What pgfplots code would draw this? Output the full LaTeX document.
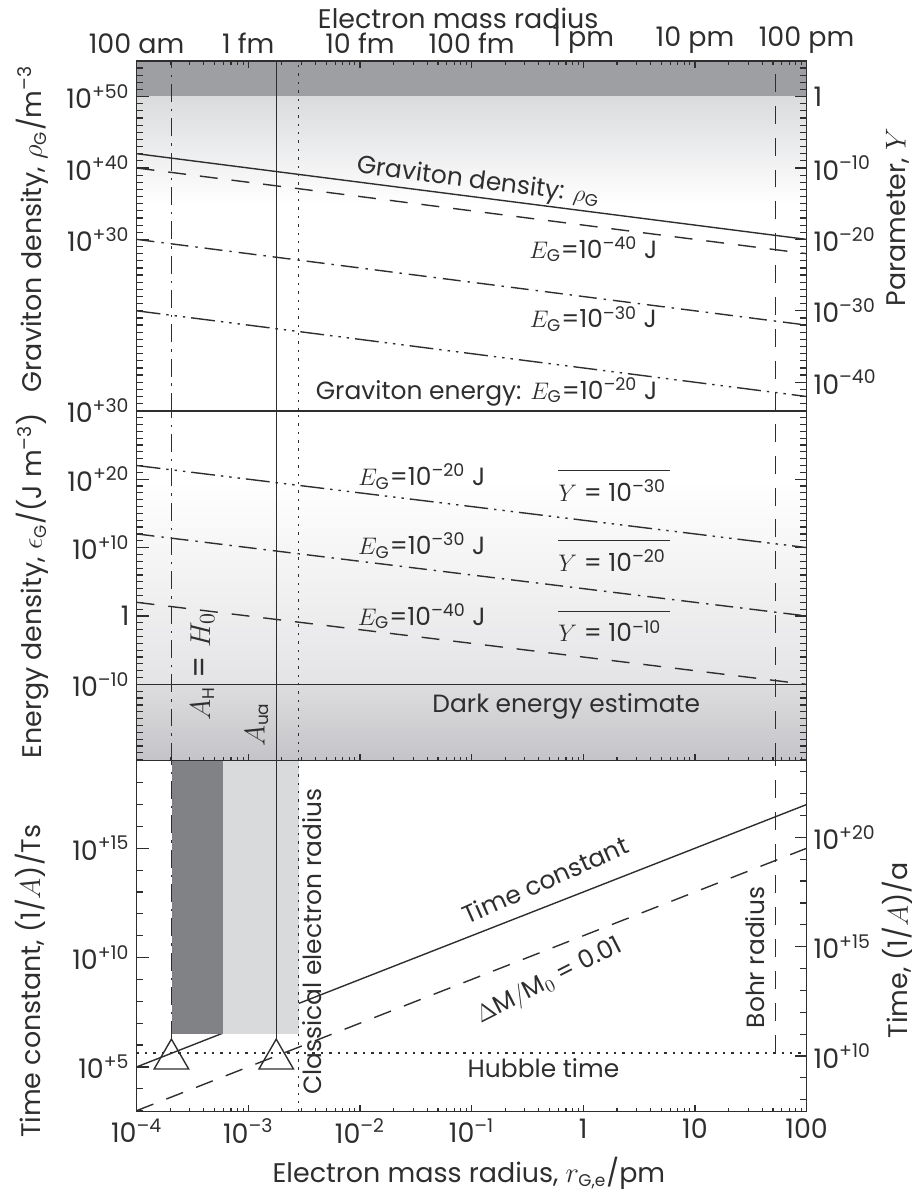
\documentclass[border=0pt]{standalone}
\usepackage{fontspec}
\setmainfont{Poppins}
\usepackage{pgfplots}
\pgfplotsset{compat=1.18}

\definecolor{bandgray}{HTML}{9E9FA3}
\definecolor{fadegray}{HTML}{DADBDD}
\definecolor{midgray}{HTML}{E4E4E6}
\definecolor{detop}{HTML}{DDDDDF}
\definecolor{debot}{HTML}{C4C4C8}
\definecolor{rectdark}{HTML}{818285}
\definecolor{rectlight}{HTML}{D9DADC}
\definecolor{ink}{HTML}{2E2E2E}

\newcommand\fs{\fontsize{12.5}{14}\selectfont}
\newcommand\fl{\fontsize{13.5}{15}\selectfont}
\newcommand\fb{\fontsize{15.5}{17}\selectfont}
\newcommand\sbs[1]{\mbox{\fontsize{8.5}{9}\selectfont #1}}
\newcommand\tp[1]{10\textsuperscript{#1}}

\tikzset{
  ln/.style={ink, line width=0.7pt, solid},
  dsh/.style={ln, dash pattern=on 9pt off 7pt},
  dshdot/.style={ln, dash pattern=on 9pt off 3.5pt on 1.2pt off 3.5pt},
  dshdots/.style={ln, dash pattern=on 12pt off 3pt on 1.2pt off 3pt on 1.2pt off 3pt on 1.2pt off 3pt},
  dts/.style={ln, dash pattern=on 1.2pt off 3pt},
  lbl/.style={font=\fs, text=ink},
  tk/.style={ink, line width=0.6pt, solid},
}
\pgfplotsset{major tick length=0pt, minor tick length=0pt}

% tick marks along an axis edge: position, list, length
\newcommand\yticks[3]{\pgfplotsinvokeforeach{#2}{\draw[tk] (axis cs:#1,##1) -- ++(#3,0pt);}}
\newcommand\xticks[3]{\pgfplotsinvokeforeach{#2}{\draw[tk] (axis cs:##1,#1) -- ++(0pt,#3);}}
\newcommand\xdecades[2]{%
  \xticks{#1}{1e-4,1e-3,1e-2,1e-1,1,10,100}{#2}}
\newcommand\xsubs[2]{%
  \xticks{#1}{2e-4,3e-4,4e-4,5e-4,6e-4,7e-4,8e-4,9e-4,2e-3,3e-3,4e-3,5e-3,6e-3,7e-3,8e-3,9e-3,2e-2,3e-2,4e-2,5e-2,6e-2,7e-2,8e-2,9e-2,0.2,0.3,0.4,0.5,0.6,0.7,0.8,0.9,2,3,4,5,6,7,8,9,20,30,40,50,60,70,80,90}{#2}}

\begin{document}
\begin{tikzpicture}

% y values are powers of ten (log10 of the quantity)
% ---------------- top panel: graviton density / parameter Y
\begin{axis}[scale only axis, width=336pt, height=175.5pt, anchor=north west, at={(68.5pt,-30.5pt)},
  axis on top, axis line style={ink, line width=0.7pt},
  tick label style={font=\fl, text=ink}, label style={font=\fl, text=ink},
  xmode=log, xmin=1e-4, xmax=100, ymin=6, ymax=55,
  xtick={1e-4,1e-3,1e-2,1e-1,1,10,100},
  xtick pos=right, xticklabel pos=right,
  xticklabels={100 am,1 fm,10 fm,100 fm,1 pm,10 pm,100 pm},
  xlabel={Electron mass radius},
  xlabel style={at={(axis description cs:0.48,1.1225)}, anchor=center},
  ytick pos=left, ytick={30,40,50},
  yticklabels={\tp{+30},\tp{+40},\tp{+50}},
  ylabel={Graviton density, $\rho_{\sbs{G}}$/m\textsuperscript{--3}},
  ylabel style={at={(axis description cs:-0.155,0.52)}, anchor=center},
]
\addplot[draw=none, fill=bandgray] coordinates {(1e-4,50) (100,50) (100,55) (1e-4,55)} -- cycle;
\addplot[draw=none, top color=fadegray, bottom color=white] coordinates {(1e-4,35) (100,35) (100,50) (1e-4,50)} -- cycle;

\addplot[ln] coordinates {(1e-4,42) (100,30)};
\addplot[dsh] coordinates {(1e-4,40) (100,28)};
\addplot[dshdot] coordinates {(1e-4,30) (100,18)};
\addplot[dshdots] coordinates {(1e-4,20) (100,8)};

\addplot[dshdot] coordinates {(2.05e-4,6) (2.05e-4,55)};
\addplot[ln] coordinates {(1.78e-3,6) (1.78e-3,55)};
\addplot[dts] coordinates {(2.82e-3,6) (2.82e-3,55)};
\addplot[dsh] coordinates {(52.9,6) (52.9,55)};

\yticks{1e-4}{6,...,55}{3.2pt}
\yticks{1e-4}{30,40,50}{6pt}
\yticks{100}{6,...,55}{-3.2pt}
\yticks{100}{10,20,30,40,50}{-6pt}
\xsubs{55}{-2pt}
\xdecades{55}{-3.5pt}

\node[lbl, rotate=-7.3] at (axis cs:0.115,38) {Graviton density: $\rho_{\sbs{G}}$};
\node[lbl] at (axis cs:1.23,28.6) {$E_{\sbs{G}}$=\tp{--40} J};
\node[lbl] at (axis cs:1.23,18.84) {$E_{\sbs{G}}$=\tp{--30} J};
\node[lbl] at (axis cs:0.136,8.65) {Graviton energy: $E_{\sbs{G}}$=\tp{--20} J};
\end{axis}

\begin{axis}[scale only axis, width=336pt, height=175.5pt, anchor=north west, at={(68.5pt,-30.5pt)},
  xmode=log, xmin=1e-4, xmax=100, ymin=-44, ymax=5,
  axis x line=none, axis y line*=right,
  axis line style={-, ink, line width=0.7pt},
  tick label style={font=\fl, text=ink}, label style={font=\fl, text=ink},
  ytick={-40,-30,-20,-10,0},
  yticklabels={\tp{--40},\tp{--30},\tp{--20},\tp{--10},1},
  ylabel={Parameter, $Y$},
  ylabel style={at={(axis description cs:1.136,0.553)}, anchor=center},
]
\end{axis}

% ---------------- middle panel: energy density
\begin{axis}[scale only axis, width=336pt, height=175.5pt, anchor=north west, at={(68.5pt,-206pt)},
  axis on top, axis line style={ink, line width=0.7pt},
  tick label style={font=\fl, text=ink}, label style={font=\fl, text=ink},
  xmode=log, xmin=1e-4, xmax=100, ymin=-21.17, ymax=30,
  xtick={1e-4,1e-3,1e-2,1e-1,1,10,100},
  xtick pos=left, xticklabels={},
  ytick pos=left,
  ytick={-10,0,10,20,30},
  yticklabels={\tp{--10},1,\tp{+10},\tp{+20},\tp{+30}},
  ylabel={Energy density, $\epsilon_{\sbs{G}}$/(J m\textsuperscript{--3})},
  ylabel style={at={(axis description cs:-0.155,0.5)}, anchor=center},
]
\addplot[draw=none, top color=white, bottom color=midgray] coordinates {(1e-4,-10) (100,-10) (100,20) (1e-4,20)} -- cycle;
\addplot[draw=none, top color=detop, bottom color=debot] coordinates {(1e-4,-21.17) (100,-21.17) (100,-10) (1e-4,-10)} -- cycle;

\addplot[ln] coordinates {(1e-4,-10) (100,-10)};
\addplot[dshdots] coordinates {(1e-4,22) (100,10)};
\addplot[dshdot] coordinates {(1e-4,12) (100,0)};
\addplot[dsh] coordinates {(1e-4,2) (100,-10)};

\addplot[dshdot] coordinates {(2.05e-4,-21.17) (2.05e-4,30)};
\addplot[ln] coordinates {(1.78e-3,-21.17) (1.78e-3,30)};
\addplot[dts] coordinates {(2.82e-3,-21.17) (2.82e-3,30)};
\addplot[dsh] coordinates {(52.9,-21.17) (52.9,30)};

\yticks{1e-4}{-21,...,30}{3.2pt}
\yticks{1e-4}{-10,0,10,20,30}{6pt}
\yticks{100}{-21,...,30}{-3.2pt}
\yticks{100}{-10,0,10,20,30}{-6pt}
\xsubs{-21.17}{2pt}
\xdecades{-21.17}{3.5pt}

\node[lbl] at (axis cs:0.0358,20.38) {$E_{\sbs{G}}$=\tp{--20} J};
\node[lbl] at (axis cs:0.0358,10.3) {$E_{\sbs{G}}$=\tp{--30} J};
\node[lbl] at (axis cs:0.0358,-0.03) {$E_{\sbs{G}}$=\tp{--40} J};
\node[lbl, align=left] at (axis cs:1.89,19.07) {\rule{56pt}{0.7pt}\\[1pt]$Y$ = \tp{--30}};
\node[lbl, align=left] at (axis cs:1.89,8.86) {\rule{56pt}{0.7pt}\\[1pt]$Y$ = \tp{--20}};
\node[lbl, align=left] at (axis cs:1.89,-1.49) {\rule{56pt}{0.7pt}\\[1pt]$Y$ = \tp{--10}};
\node[lbl] at (axis cs:0.705,-13.15) {Dark energy estimate};
\node[lbl, font=\fb, rotate=90] at (axis cs:3.89e-4,-7.4) {$A_{\sbs{H}}$ = $H_0$};
\node[lbl, font=\fb, rotate=90] at (axis cs:1.2e-3,-15.9) {$A_{\sbs{ua}}$};
\end{axis}

% ---------------- bottom panel: time constant
\begin{axis}[scale only axis, width=336pt, height=176pt, anchor=north west, at={(68.5pt,-381.5pt)},
  axis on top, axis line style={ink, line width=0.7pt},
  tick label style={font=\fl, text=ink}, label style={font=\fl, text=ink},
  xmode=log, xmin=1e-4, xmax=100, ymin=2.95, ymax=19,
  xtick={1e-4,1e-3,1e-2,1e-1,1,10,100},
  xtick pos=left,
  xticklabels={\tp{--4},\tp{--3},\tp{--2},\tp{--1},1,10,100},
  xlabel={Electron mass radius, $r_{\sbs{G,e}}$/pm},
  xlabel style={at={(axis description cs:0.496,-0.175)}, anchor=center},
  ytick pos=left, ytick={5,10,15},
  yticklabels={\tp{+5},\tp{+10},\tp{+15}},
  ylabel={Time constant, (1/$A$)/Ts},
  ylabel style={at={(axis description cs:-0.159,0.372)}, anchor=center},
]
\addplot[ln] coordinates {(1e-4,5) (100,17)};
\addplot[dsh] coordinates {(1e-4,3) (100,15)};

\addplot[draw=none, fill=rectdark] coordinates {(2.08e-4,6.5) (5.9e-4,6.5) (5.9e-4,19) (2.08e-4,19)} -- cycle;
\addplot[draw=none, fill=rectlight] coordinates {(5.9e-4,6.5) (2.82e-3,6.5) (2.82e-3,19) (5.9e-4,19)} -- cycle;

\addplot[dts] coordinates {(1e-4,5.64) (100,5.64)};
\addplot[dshdot] coordinates {(2.05e-4,6.27) (2.05e-4,19)};
\addplot[ln] coordinates {(1.78e-3,6.27) (1.78e-3,19)};
\addplot[dts] coordinates {(2.82e-3,2.95) (2.82e-3,19)};
\addplot[dsh] coordinates {(52.9,5.64) (52.9,19)};

\addplot[only marks, mark=triangle, mark size=10pt, mark options={ink, solid, line width=0.7pt}] coordinates {(2.05e-4,5.36) (1.78e-3,5.36)};

\yticks{1e-4}{3,...,19}{3.2pt}
\yticks{1e-4}{5,10,15}{6pt}
\yticks{100}{3.5,4.5,5.5,6.5,7.5,8.5,9.5,10.5,11.5,12.5,13.5,14.5,15.5,16.5,17.5,18.5}{-3.2pt}
\yticks{100}{5.5,10.5,15.5}{-6pt}
\xsubs{2.95}{2pt}
\xdecades{2.95}{3.5pt}

\node[lbl, rotate=90] at (axis cs:3.73e-3,10.73) {Classical electron radius};
\node[lbl, rotate=90] at (axis cs:34.4,10.0) {Bohr radius};
\node[lbl, rotate=24] at (axis cs:0.457,13.55) {Time constant};
\node[lbl, rotate=27] at (axis cs:0.497,8.9) {$\Delta\mathrm{M}/\mathrm{M}_0$ = 0.01};
\node[lbl] at (axis cs:0.44,4.95) {Hubble time};
\end{axis}

\begin{axis}[scale only axis, width=336pt, height=176pt, anchor=north west, at={(68.5pt,-381.5pt)},
  xmode=log, xmin=1e-4, xmax=100, ymin=7.45, ymax=23.5,
  axis x line=none, axis y line*=right,
  axis line style={-, ink, line width=0.7pt},
  tick label style={font=\fl, text=ink}, label style={font=\fl, text=ink},
  ytick={10,15,20},
  yticklabels={\tp{+10},\tp{+15},\tp{+20}},
  ylabel={Time, (1/$A$)/a},
  ylabel style={at={(axis description cs:1.136,0.46)}, anchor=center},
]
\end{axis}

\path[use as bounding box] (0,0) rectangle (460pt,-598pt);
\end{tikzpicture}
\end{document}
